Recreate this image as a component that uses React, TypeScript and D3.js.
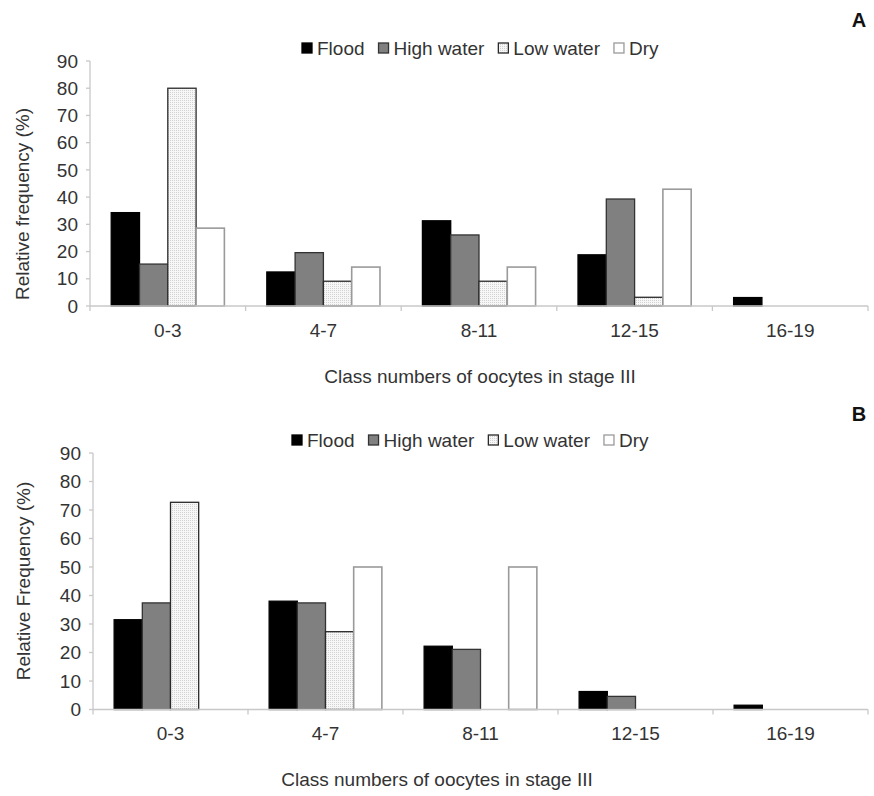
import React, { useEffect, useRef } from 'react';
import * as d3 from 'd3';

const categories = ['0-3', '4-7', '8-11', '12-15', '16-19'];
const seriesNames = ['Flood', 'High water', 'Low water', 'Dry'];
const yTicks = [0, 10, 20, 30, 40, 50, 60, 70, 80, 90];

// panel A
const floodA = [34.3, 12.5, 31.3, 18.8, 3.1];
const highWaterA = [15.4, 19.6, 26.1, 39.3, 0];
const lowWaterA = [80, 9.1, 9.1, 3.2, 0];
const dryA = [28.6, 14.3, 14.3, 42.9, 0];

// panel B
const floodB = [31.5, 38.0, 22.2, 6.3, 1.5];
const highWaterB = [37.4, 37.4, 21.1, 4.6, 0];
const lowWaterB = [72.7, 27.3, 0, 0, 0];
const dryB = [0, 50, 50, 0, 0];

const xTitle = 'Class numbers of oocytes in stage III';

const fills = ['#000000', '#808080', 'url(#dots)', '#ffffff'];
const strokes = ['#000000', '#333333', '#2a2a2a', '#9a9a9a'];

const FONT = '"Liberation Sans", Arial, sans-serif';
const TEXT = '#333333';
const AXIS = '#c8c8c8';

function drawPanel(svg, series, cfg) {
  const g = svg.append('g');

  const x0 = d3.scaleBand().domain(categories).range([cfg.left, cfg.right]);
  const x1 = d3.scaleBand().domain(seriesNames).range([0, x0.bandwidth()]).paddingOuter(0.75);
  const y = d3.scaleLinear().domain([0, 90]).range([cfg.bottom, cfg.top]);

  // bars
  categories.forEach((c, ci) => {
    seriesNames.forEach((s, si) => {
      const v = series[si][ci];
      if (v <= 0) return;
      g.append('rect')
        .attr('x', x0(c) + x1(s))
        .attr('y', y(v))
        .attr('width', x1.bandwidth())
        .attr('height', y(0) - y(v))
        .attr('fill', fills[si])
        .attr('stroke', strokes[si])
        .attr('stroke-width', si === 3 ? 1.6 : 1.3);
    });
  });

  // y axis
  g.append('line')
    .attr('x1', cfg.left).attr('x2', cfg.left)
    .attr('y1', y(90)).attr('y2', y(0))
    .attr('stroke', AXIS).attr('stroke-width', 1.3);
  yTicks.forEach((t) => {
    g.append('line')
      .attr('x1', cfg.left - 4).attr('x2', cfg.left)
      .attr('y1', y(t)).attr('y2', y(t))
      .attr('stroke', AXIS).attr('stroke-width', 1.3);
    g.append('text')
      .attr('x', cfg.left - 12)
      .attr('y', y(t))
      .attr('dy', '0.35em')
      .attr('text-anchor', 'end')
      .attr('font-family', FONT).attr('font-size', 19).attr('fill', TEXT)
      .text(t);
  });

  // x axis
  g.append('line')
    .attr('x1', cfg.left).attr('x2', cfg.right)
    .attr('y1', y(0)).attr('y2', y(0))
    .attr('stroke', AXIS).attr('stroke-width', 1.3);
  d3.range(categories.length + 1).forEach((i) => {
    const xx = cfg.left + i * x0.step();
    g.append('line')
      .attr('x1', xx).attr('x2', xx)
      .attr('y1', y(0)).attr('y2', y(0) + 5)
      .attr('stroke', AXIS).attr('stroke-width', 1.3);
  });
  categories.forEach((c) => {
    g.append('text')
      .attr('x', x0(c) + x0.bandwidth() / 2)
      .attr('y', cfg.catBase)
      .attr('text-anchor', 'middle')
      .attr('font-family', FONT).attr('font-size', 19).attr('fill', TEXT)
      .text(c);
  });

  // titles
  g.append('text')
    .attr('x', cfg.titleX).attr('y', cfg.titleBase)
    .attr('text-anchor', 'middle')
    .attr('font-family', FONT).attr('font-size', 19).attr('fill', TEXT)
    .text(xTitle);
  g.append('text')
    .attr('transform', 'translate(' + cfg.yLabelX + ',' + cfg.yLabelY + ') rotate(-90)')
    .attr('dy', '0.35em')
    .attr('text-anchor', 'middle')
    .attr('font-family', FONT).attr('font-size', 19).attr('fill', TEXT)
    .text(cfg.yLabel);
  g.append('text')
    .attr('x', 859).attr('y', cfg.letterBase)
    .attr('text-anchor', 'middle')
    .attr('font-family', FONT).attr('font-size', 20).attr('font-weight', 'bold').attr('fill', '#111')
    .text(cfg.letter);

  // legend
  let lx = cfg.legendX;
  seriesNames.forEach((s, si) => {
    g.append('rect')
      .attr('x', lx).attr('y', cfg.legendBase - 12)
      .attr('width', 10).attr('height', 10)
      .attr('fill', fills[si])
      .attr('stroke', strokes[si])
      .attr('stroke-width', 1.3);
    const t = g.append('text')
      .attr('x', lx + 15).attr('y', cfg.legendBase)
      .attr('font-family', FONT).attr('font-size', 19).attr('fill', TEXT)
      .text(s);
    lx += 15 + t.node().getComputedTextLength() + 14;
  });
}

export default function App() {
  const ref = useRef(null);

  useEffect(() => {
    document.body.style.margin = '0';
    const svg = d3.select(ref.current);
    svg.selectAll('*').remove();

    const defs = svg.append('defs');
    const pat = defs.append('pattern')
      .attr('id', 'dots')
      .attr('patternUnits', 'userSpaceOnUse')
      .attr('width', 2).attr('height', 2);
    pat.append('rect').attr('width', 2).attr('height', 2).attr('fill', '#f7f7f7');
    pat.append('rect').attr('width', 1).attr('height', 1).attr('fill', '#d2d2d2');

    drawPanel(svg, [floodA, highWaterA, lowWaterA, dryA], {
      left: 90, right: 868, top: 61, bottom: 306,
      catBase: 337, titleBase: 383, titleX: 480,
      yLabel: 'Relative frequency (%)', yLabelX: 22, yLabelY: 204,
      letter: 'A', letterBase: 27,
      legendX: 302, legendBase: 55,
    });

    drawPanel(svg, [floodB, highWaterB, lowWaterB, dryB], {
      left: 93, right: 868, top: 453, bottom: 709.5,
      catBase: 740, titleBase: 786, titleX: 437,
      yLabel: 'Relative Frequency (%)', yLabelX: 23, yLabelY: 581,
      letter: 'B', letterBase: 421,
      legendX: 292, legendBase: 447,
    });
  }, []);

  return <svg ref={ref} width={874} height={796} style={{ display: 'block', background: '#fff' }} />;
}
